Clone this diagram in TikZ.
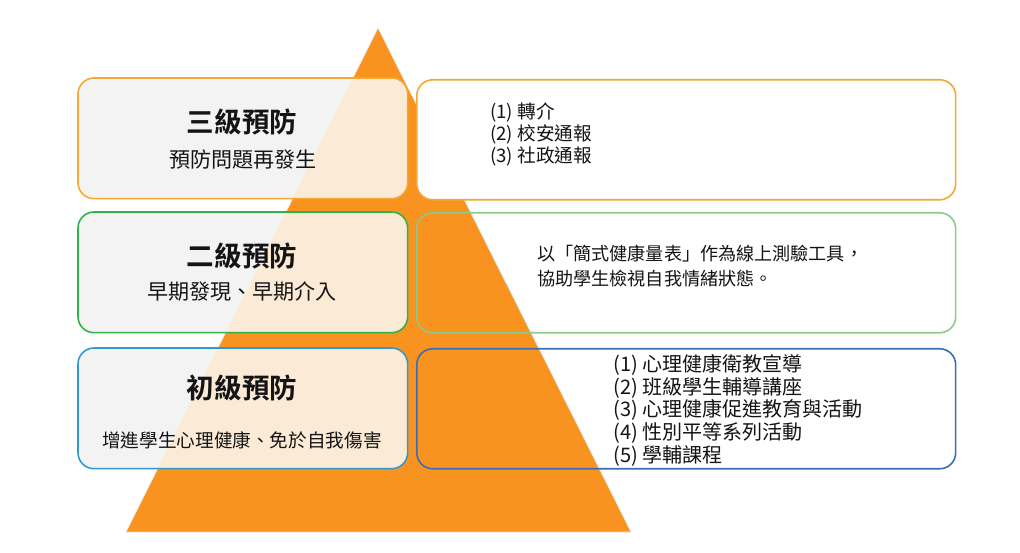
\documentclass[tikz,border=0pt]{standalone}
\usepackage{fontspec}
\setmainfont{Noto Sans CJK TC}
\newfontfamily\tcfont{Noto Sans CJK TC}
\newfontfamily\tcbold{Noto Sans CJK TC Bold}
\definecolor{triorange}{HTML}{F7931E}
\definecolor{borderorange}{HTML}{F5A833}
\definecolor{bordergreen}{HTML}{2DB34A}
\definecolor{lightgreen}{HTML}{8DC98D}
\definecolor{borderblue}{HTML}{3399CC}
\definecolor{darkblue}{HTML}{3A6DB5}
\definecolor{boxfill}{HTML}{F3F3F4}
\definecolor{peach}{HTML}{FBEBD6}
\definecolor{txt}{HTML}{141414}
\begin{document}
\begin{tikzpicture}[x=0.02cm,y=-0.02cm,
  leftbox/.style={rounded corners=0.32cm, fill=boxfill,
    minimum width=6.58cm, minimum height=2.4cm, inner sep=0pt, anchor=north west},
  rightbox/.style={draw, line width=0.9pt, rounded corners=0.32cm,
    minimum width=10.78cm, minimum height=2.4cm, inner sep=0pt, anchor=north west},
  boxedge/.style={line width=0.9pt, rounded corners=0.32cm},
  title/.style={font=\tcbold\fontsize{15.7}{18}\selectfont, text=txt, inner sep=0pt},
  subtitle/.style={font=\tcfont\fontsize{12}{14}\selectfont, text=txt, inner sep=0pt},
  listtext/.style={font=\tcfont\fontsize{10.6}{12.5}\selectfont, text=txt, align=left, inner sep=0pt, anchor=north west}
]
\useasboundingbox (0,0) rectangle (1020,553);
\fill[white] (0,0) rectangle (1020,553);
% pyramid
\coordinate (apex) at (378,28);
\coordinate (bl) at (126,532);
\coordinate (br) at (631,532);
\fill[triorange, draw=gray!20, line width=0.4pt] (apex) -- (br) -- (bl) -- cycle;
% left boxes
\node[leftbox] (l1) at (78,78) {};
\node[leftbox] (l2) at (78,212) {};
\node[leftbox] (l3) at (78,348) {};
\begin{scope}
  \clip (apex) -- (br) -- (bl) -- cycle;
  \fill[peach, rounded corners=0.32cm] (l1.north west) rectangle (l1.south east);
  \fill[peach, rounded corners=0.32cm] (l2.north west) rectangle (l2.south east);
  \fill[peach, rounded corners=0.32cm] (l3.north west) rectangle (l3.south east);
\end{scope}
\draw[boxedge, borderorange] (l1.north west) rectangle (l1.south east);
\draw[boxedge, bordergreen] (l2.north west) rectangle (l2.south east);
\draw[boxedge, borderblue] (l3.north west) rectangle (l3.south east);
% right boxes
\node[rightbox, draw=borderorange, fill=white] (r1) at (416,79) {};
\node[rightbox, draw=lightgreen] (r2) at (416,212) {};
\node[rightbox, draw=darkblue] (r3) at (416,348) {};
% left texts
\node[title] (t1) at (242,122) {三級預防};
\node[subtitle] (s1) at (243,160) {預防問題再發生};
\node[title] (t2) at (242,256) {二級預防};
\node[subtitle] (s2) at (242,291) {早期發現、早期介入};
\node[title] (t3) at (242,388) {初級預防};
\node[subtitle, font=\tcfont\fontsize{10.6}{13}\selectfont] (s3) at (242,440) {增進學生心理健康、免於自我傷害};
% right texts
\node[listtext] (x1) at (490,102) {(1) 轉介\\(2) 校安通報\\(3) 社政通報};
\node[listtext, font=\tcfont\fontsize{10.3}{14.2}\selectfont] (x2) at (537,245) {以「簡式健康量表」作為線上測驗工具，\\協助學生檢視自我情緒狀態。};
\node[listtext, font=\tcfont\fontsize{11.4}{12.9}\selectfont] (x3) at (613,354) {(1) 心理健康衛教宣導\\(2) 班級學生輔導講座\\(3) 心理健康促進教育與活動\\(4) 性別平等系列活動\\(5) 學輔課程};
\end{tikzpicture}
\end{document}
